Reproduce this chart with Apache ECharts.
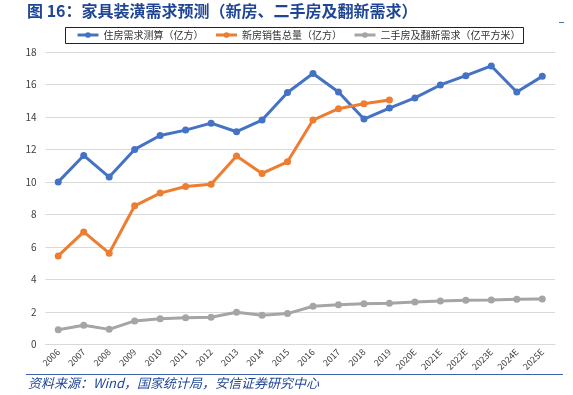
<!DOCTYPE html>
<html><head><meta charset="utf-8">
<script src="https://cdn.jsdelivr.net/npm/echarts@6/dist/echarts.min.js"></script>
<style>html,body{margin:0;padding:0;background:#fff}#c{width:573px;height:395px}</style>
</head><body><div id="c"></div>
<script>
const categories = ['2006','2007','2008','2009','2010','2011','2012','2013','2014','2015','2016','2017','2018','2019','2020E','2021E','2022E','2023E','2024E','2025E'];
const housingDemand = [10.0,11.63,10.3,12.0,12.86,13.19,13.62,13.09,13.81,15.51,16.68,15.54,13.87,14.55,15.17,15.97,16.54,17.14,15.54,16.5];
const newHomeSales = [5.44,6.92,5.61,8.53,9.31,9.72,9.86,11.59,10.52,11.24,13.81,14.51,14.81,15.04];
const secondHandRenov = [0.9,1.17,0.92,1.44,1.58,1.64,1.66,1.97,1.79,1.89,2.34,2.44,2.5,2.53,2.61,2.67,2.71,2.73,2.77,2.79];
const seriesNames = ['住房需求测算（亿方）','新房销售总量（亿方）','二手房及翻新需求（亿平方米）'];
const titleText = '图 16：家具装潢需求预测（新房、二手房及翻新需求）';
const sourceText = '资料来源：Wind，国家统计局，安信证券研究中心';
const yTicks = {min:0, max:18, interval:2};

const chart = echarts.init(document.getElementById('c'), null, {renderer:'canvas'});
const colors = ['#4472C4','#ED7D31','#A5A5A5'];
const font = '"Noto Sans CJK SC", "Noto Sans", sans-serif';
function mk(name, data, color){
  return {name, type:'line', data, symbol:'circle', symbolSize:7, showSymbol:true,
    lineStyle:{width:3, color}, itemStyle:{color}, emphasis:{disabled:true}};
}
chart.setOption({
  animation:false,
  textStyle:{fontFamily:font},
  grid:{left:45.5, right:18, top:52, bottom:50.7, containLabel:false},
  graphic:[
    {type:'text', left:27, top:3, style:{text:titleText, fill:'#1f4597', font:'bold 16px '+font}},
    {type:'rect', shape:{x:65.5, y:27.5, width:458, height:16}, style:{fill:'none', stroke:'#222', lineWidth:1}},
    {type:'line', shape:{x1:559, y1:22.5, x2:564, y2:22.5}, style:{stroke:'#4a6fb5', lineWidth:1}},
    {type:'line', shape:{x1:26, y1:374.5, x2:563, y2:374.5}, style:{stroke:'#3d62ad', lineWidth:1.2}},
    {type:'text', left:28, top:377, style:{text:sourceText, fill:'#1f4597', font:'italic 13px '+font}}
  ],
  legend:{left:76, top:30, itemWidth:21, itemHeight:7, itemGap:11, padding:0,
    lineStyle:{width:3},
    textStyle:{fontSize:10, color:'#333', fontFamily:font},
    data:seriesNames},
  xAxis:{type:'category', data:categories, boundaryGap:true,
    axisLine:{lineStyle:{color:'#d9d9d9'}}, axisTick:{show:false},
    axisLabel:{rotate:45, fontSize:9, color:'#404040', margin:6, interval:0}},
  yAxis:{type:'value', min:yTicks.min, max:yTicks.max, interval:yTicks.interval,
    axisLine:{show:false}, axisTick:{show:false},
    axisLabel:{fontSize:10, color:'#404040', margin:9},
    splitLine:{lineStyle:{color:'#d9d9d9', width:1}}},
  series:[mk(seriesNames[0], housingDemand, colors[0]), mk(seriesNames[1], newHomeSales, colors[1]), mk(seriesNames[2], secondHandRenov, colors[2])]
});
</script></body></html>
